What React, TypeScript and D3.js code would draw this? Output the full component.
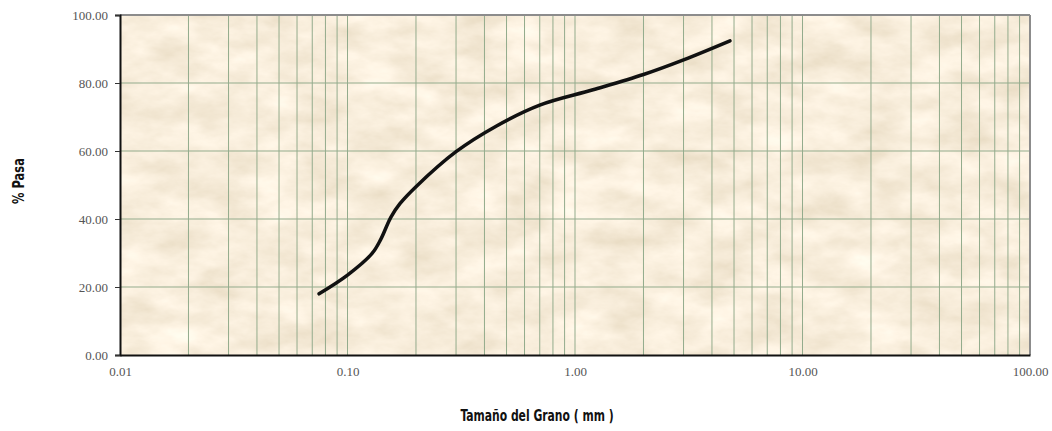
import React, { useEffect, useRef } from "react";
import * as d3 from "d3";

const sizes = [0.075, 0.1, 0.128, 0.14, 0.155, 0.17, 0.2, 0.3, 0.45, 0.7, 1.2, 2.0, 3.0, 4.8];
const pasa = [18, 23.5, 29.8, 34, 40.5, 44.5, 49.5, 59.8, 67.3, 73.5, 78, 82.5, 86.8, 92.4];

const yTicks = [0, 20, 40, 60, 80, 100];
const xTicks = [0.01, 0.1, 1, 10, 100];

const W = 1052, H = 431;
const m = { left: 120, right: 22, top: 15, bottom: 76 };

function App() {
  const ref = useRef<SVGSVGElement>(null);

  useEffect(() => {
    const svg = d3.select(ref.current);
    svg.selectAll("*").remove();

    const x = d3.scaleLog().domain([0.01, 100]).range([m.left, W - m.right]);
    const y = d3.scaleLinear().domain([0, 100]).range([H - m.bottom, m.top]);
    const pw = W - m.right - m.left, ph = H - m.bottom - m.top;

    const defs = svg.append("defs");
    const f = defs.append("filter").attr("id", "paper")
      .attr("x", 0).attr("y", 0).attr("width", "100%").attr("height", "100%");
    f.append("feTurbulence").attr("type", "fractalNoise")
      .attr("baseFrequency", "0.02 0.04").attr("numOctaves", 5).attr("seed", 7);
    f.append("feColorMatrix").attr("type", "matrix")
      .attr("values", "0.3 0 0 0 0.79  0.32 0 0 0 0.69  0.38 0 0 0 0.52  0 0 0 0 1");

    svg.append("rect").attr("x", m.left).attr("y", m.top)
      .attr("width", pw).attr("height", ph).attr("fill", "#ecd8b4");
    svg.append("rect").attr("x", m.left).attr("y", m.top)
      .attr("width", pw).attr("height", ph).attr("filter", "url(#paper)");

    // grid: every log minor tick
    const vg = x.ticks().filter(v => v > 0.01 && v < 100);
    svg.append("g").selectAll("line").data(vg).join("line")
      .attr("x1", d => x(d)).attr("x2", d => x(d))
      .attr("y1", m.top).attr("y2", H - m.bottom)
      .attr("stroke", "#93ab8c").attr("stroke-width", 1);
    svg.append("g").selectAll("line").data(yTicks.filter(v => v > 0 && v < 100)).join("line")
      .attr("x1", m.left).attr("x2", W - m.right)
      .attr("y1", d => y(d)).attr("y2", d => y(d))
      .attr("stroke", "#93ab8c").attr("stroke-width", 1);

    // frame
    svg.append("line").attr("x1", m.left).attr("x2", W - m.right).attr("y1", m.top).attr("y2", m.top)
      .attr("stroke", "#8c8c8c").attr("stroke-width", 2);
    svg.append("line").attr("x1", W - m.right).attr("x2", W - m.right).attr("y1", m.top).attr("y2", H - m.bottom)
      .attr("stroke", "#8c8c8c").attr("stroke-width", 2);

    const yAxis = svg.append("g").attr("transform", `translate(${m.left},0)`)
      .call(d3.axisLeft(y).tickValues(yTicks).tickSize(5).tickFormat(d3.format(".2f")));
    const xAxis = svg.append("g").attr("transform", `translate(0,${H - m.bottom})`)
      .call(d3.axisBottom(x).tickValues(xTicks).tickSize(0).tickPadding(12).tickFormat(d3.format(".2f")));
    [yAxis, xAxis].forEach(a => {
      a.select(".domain").attr("stroke", "#111").attr("stroke-width", 2);
      a.selectAll(".tick line").attr("stroke", "#333");
      a.selectAll("text").attr("font-family", "'Liberation Serif', serif")
        .attr("font-size", 13).attr("fill", "#555");
    });
    yAxis.selectAll("text").attr("x", -12);

    // curve
    const pts = sizes.map((s, i) => [s, pasa[i]] as [number, number]);
    svg.append("path").datum(pts)
      .attr("fill", "none").attr("stroke", "#111").attr("stroke-width", 3.5)
      .attr("stroke-linecap", "round")
      .attr("d", d3.line<[number, number]>().x(d => x(d[0])).y(d => y(d[1])).curve(d3.curveCatmullRom.alpha(0.5)));

    const titleFont = "'DejaVu Sans Condensed', 'Liberation Sans Narrow', sans-serif";
    svg.append("text").attr("transform", `translate(24,${y(50) - 4}) rotate(-90) scale(0.85,1)`)
      .attr("text-anchor", "middle").attr("font-family", titleFont)
      .attr("font-weight", "bold").attr("font-size", 15).attr("fill", "#111").text("% Pasa");
    svg.append("text").attr("transform", `translate(537,421) scale(0.8,1)`)
      .attr("text-anchor", "middle").attr("font-family", titleFont)
      .attr("font-weight", "bold").attr("font-size", 15).attr("fill", "#111").text("Tamaño del Grano ( mm )");
  }, []);

  return (
    <svg ref={ref} width={W} height={H} style={{ position: "absolute", left: 0, top: 0, background: "#fff" }} />
  );
}

export default App;
